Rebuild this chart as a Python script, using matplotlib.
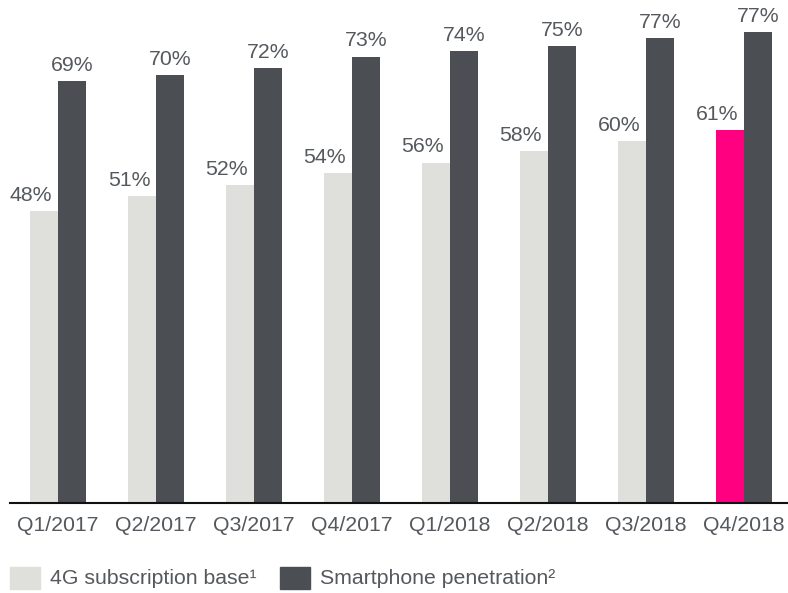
import numpy as np
import matplotlib
matplotlib.use("Agg")
from matplotlib import pyplot as plt
from matplotlib.patches import Rectangle

# data
quarters = ["Q1/2017", "Q2/2017", "Q3/2017", "Q4/2017",
            "Q1/2018", "Q2/2018", "Q3/2018", "Q4/2018"]
lte_base = [48.0, 50.5, 52.3, 54.3, 56.0, 57.9, 59.5, 61.3]
lte_labels = ["48%", "51%", "52%", "54%", "56%", "58%", "60%", "61%"]
smartphone = [69.4, 70.4, 71.5, 73.4, 74.3, 75.2, 76.5, 77.5]
smartphone_labels = ["69%", "70%", "72%", "73%", "74%", "75%", "77%", "77%"]
series_names = ["4G subscription base\u00b9", "Smartphone penetration\u00b2"]

LIGHT = "#dfdfdb"
DARK = "#4b4f53"
MAGENTA = "#ff0080"
TEXT = "#55595d"
FS = 15.3

plt.rcParams['font.family'] = ['Liberation Sans', 'DejaVu Sans']

W, H = 788, 593
fig = plt.figure(figsize=(W / 100, H / 100), dpi=100)
ax = fig.add_axes([10 / W, (H - 503) / H, 778 / W, 80 * 6.08 / H])

x = np.arange(len(quarters))
bw = 0.286

light_colors = [LIGHT] * (len(quarters) - 1) + [MAGENTA]
ax.bar(x - bw / 2, lte_base, width=bw, color=light_colors)
ax.bar(x + bw / 2, smartphone, width=bw, color=DARK)

for i in range(len(quarters)):
    ax.annotate(lte_labels[i], (x[i] - bw / 2 - 0.133, lte_base[i]),
                xytext=(0, 4.5), textcoords="offset points",
                ha="center", va="bottom", fontsize=FS, color=TEXT,
                annotation_clip=False)
    ax.annotate(smartphone_labels[i], (x[i] + bw / 2, smartphone[i]),
                xytext=(0, 4.5), textcoords="offset points",
                ha="center", va="bottom", fontsize=FS, color=TEXT,
                annotation_clip=False)

ax.set_xlim(-0.49, 7.45)
ax.set_ylim(0, 80)
ax.set_xticks(x)
ax.set_xticklabels(quarters, fontsize=FS, color=TEXT)
ax.tick_params(axis="x", length=0, pad=9.5)
ax.set_yticks([])
for s in ["top", "right", "left"]:
    ax.spines[s].set_visible(False)
ax.spines["bottom"].set_color("#111111")
ax.spines["bottom"].set_linewidth(1.5)

# legend drawn by hand in figure pixels
for px, name, col in [(10, series_names[0], LIGHT), (280, series_names[1], DARK)]:
    fig.patches.append(Rectangle((px / W, (H - 589) / H), 30 / W, 22 / H,
                                 transform=fig.transFigure, color=col))
    fig.text((px + 40) / W, (H - 578) / H, name, fontsize=FS, color=TEXT,
             ha="left", va="center")

fig.savefig("out.png", dpi=100)
